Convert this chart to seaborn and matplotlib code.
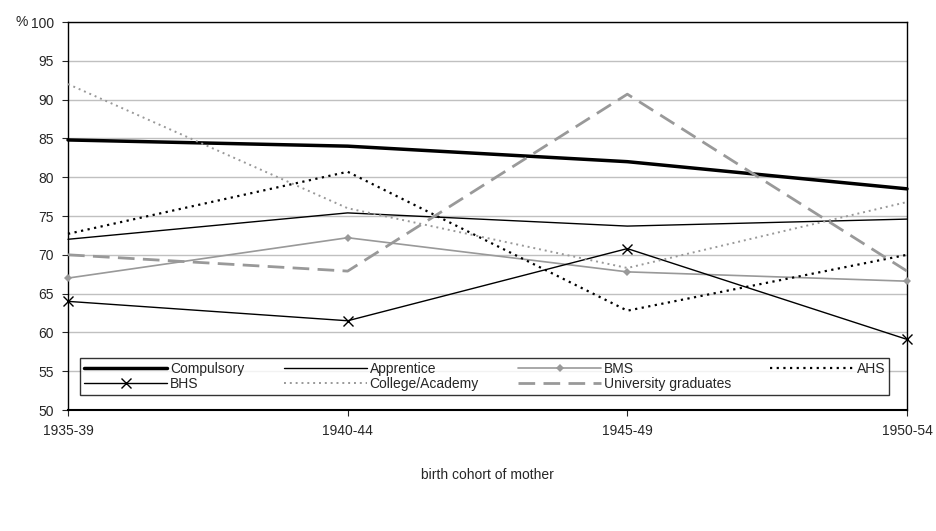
import matplotlib
matplotlib.use("Agg")
import matplotlib.pyplot as plt
import seaborn as sns
import pandas as pd

cohorts = ["1935-39", "1940-44", "1945-49", "1950-54"]
compulsory = [84.8, 84.0, 82.0, 78.5]
apprentice = [72.0, 75.4, 73.7, 74.6]
bms = [67.0, 72.2, 67.8, 66.6]
ahs = [72.7, 80.7, 62.8, 70.0]
bhs = [64.0, 61.5, 70.8, 59.1]
college = [92.0, 76.0, 68.3, 76.8]
university = [70.0, 67.9, 90.7, 67.9]

series = {
    "Compulsory": compulsory, "Apprentice": apprentice, "BMS": bms, "AHS": ahs,
    "BHS": bhs, "College/Academy": college, "University graduates": university,
}
styles = {
    "Compulsory": dict(color="black", lw=2.5, ls="-"),
    "Apprentice": dict(color="black", lw=1.0, ls="-"),
    "BMS": dict(color="#999999", lw=1.2, ls="-", marker="D", ms=4),
    "AHS": dict(color="black", lw=1.6, ls=(0, (1, 2))),
    "BHS": dict(color="black", lw=1.0, ls="-", marker="x", ms=7, mew=1.0),
    "College/Academy": dict(color="#999999", lw=1.4, ls=(0, (1, 2))),
    "University graduates": dict(color="#999999", lw=2.0, ls=(0, (6, 3))),
}

df = pd.DataFrame([(k, i, v) for k, vals in series.items() for i, v in enumerate(vals)],
                  columns=["group", "x", "value"])

sns.set_style("white")
plt.rcParams["font.family"] = ["Liberation Sans Narrow", "Liberation Sans", "DejaVu Sans"]

fig = plt.figure(figsize=(9.36, 5.31), dpi=100)
ax = fig.add_axes([68 / 936, 1 - 410 / 531, (907 - 68) / 936, (410 - 22) / 531])

for name in series:
    sub = df[df["group"] == name]
    st = styles[name]
    sns.lineplot(data=sub, x="x", y="value", ax=ax, label=name, color=st["color"],
                 lw=st["lw"], ls=st["ls"], marker=st.get("marker"), ms=st.get("ms", 0),
                 mew=st.get("mew", 0), mec=st["color"], clip_on=False, zorder=3)

ax.set_xlim(0, 3)
ax.set_ylim(50, 100)
ax.set_yticks(range(50, 101, 5))
ax.set_xticks(range(4))
ax.set_xticklabels(cohorts)
ax.yaxis.grid(True, color="#c0c0c0", lw=1)
ax.set_axisbelow(True)
for s in ax.spines.values():
    s.set_color("black")
    s.set_linewidth(1)
ax.spines["bottom"].set_linewidth(1.5)
ax.tick_params(axis="both", labelsize=10, length=4, direction="out", left=True, bottom=True, pad=6)
ax.set_xlabel("birth cohort of mother", fontsize=10, labelpad=22)
ax.set_ylabel("")
ax.text(-0.063, 1.0, "%", transform=ax.transAxes, fontsize=10, ha="left", va="center")

# row-major order in a column-major legend
handles, labels = ax.get_legend_handles_labels()
order = [0, 4, 1, 5, 2, 6, 3]
leg = ax.legend([handles[i] for i in order], [labels[i] for i in order],
                ncol=4, loc="lower left", bbox_to_anchor=(0.006, 0.02, 0.981, 0.1),
                mode="expand", fontsize=10, frameon=True, fancybox=False,
                borderpad=0.3, labelspacing=0.1, handlelength=6, handletextpad=0.2)
leg.get_frame().set_edgecolor("black")
leg.get_frame().set_linewidth(1)
leg.set_zorder(5)

fig.savefig("out.png", dpi=100)
